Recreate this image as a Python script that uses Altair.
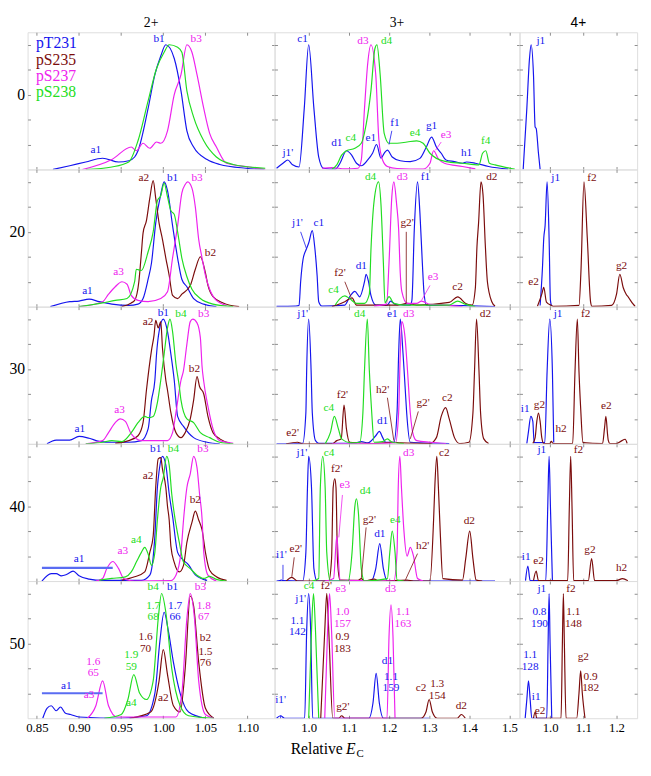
import altair as alt
import pandas as pd

SERIF = "Liberation Serif"
GRAY = "#8c8c8c"
SERIES = ["pT231", "pS235", "pS237", "pS238"]
COLORS = ["#1515ee", "#7b0c0c", "#ee22ee", "#22dd22"]
BAR_COLOR = "#5a6cf2"
ROWS = ["0", "20", "30", "40", "50"]
CHARGES = ["2+", "3+", "4+"]

X_DOMAIN = {"2+": [0.839, 1.132], "3+": [0.915, 1.525], "4+": [0.908, 1.262]}
X_TICKS = {"2+": [0.85, 0.90, 0.95, 1.00, 1.05, 1.10],
           "3+": [1.0, 1.1, 1.2, 1.3, 1.4, 1.5],
           "4+": [1.0, 1.1, 1.2]}
Y_DOMAIN = [0, 1.1]
Y_TICKS = [0.2, 0.4, 0.6, 0.8, 1.0]
PANEL_W = {"2+": 252, "3+": 250, "4+": 120}
PANEL_H = 140

# ---------------- traces: 2+ ----------------
r0_2_T231_x = [0.869, 0.889, 0.908, 0.928, 0.947, 0.959, 0.966, 0.970, 0.982, 0.990, 0.997, 1.003, 1.013, 1.021, 1.028, 1.036, 1.052, 1.067, 1.098, 1.12]
r0_2_T231_y = [0.0, 0.03, 0.06, 0.09, 0.06, 0.07, 0.1, 0.15, 0.49, 0.76, 0.91, 1.0, 0.89, 0.63, 0.31, 0.18, 0.08, 0.04, 0.01, 0.0]
r0_2_S237_x = [0.904, 0.939, 0.962, 0.968, 0.976, 0.984, 0.992, 0.997, 1.005, 1.013, 1.021, 1.028, 1.034, 1.040, 1.048, 1.055, 1.063, 1.075, 1.102, 1.121]
r0_2_S237_y = [0.0, 0.08, 0.18, 0.15, 0.21, 0.17, 0.22, 0.21, 0.31, 0.6, 0.76, 1.0, 0.94, 0.76, 0.49, 0.29, 0.18, 0.05, 0.02, 0.0]
r0_2_S238_x = [0.908, 0.939, 0.959, 0.970, 0.982, 0.992, 1.001, 1.007, 1.017, 1.022, 1.028, 1.036, 1.048, 1.063, 1.083, 1.121]
r0_2_S238_y = [0.0, 0.02, 0.06, 0.23, 0.55, 0.81, 0.94, 1.0, 0.98, 0.94, 0.63, 0.42, 0.23, 0.1, 0.04, 0.01]

r20_2_T231_x = [0.866, 0.889, 0.900, 0.912, 0.924, 0.939, 0.959, 0.970, 0.976, 0.982, 0.986, 0.991, 0.997, 1.001, 1.005, 1.011, 1.017, 1.022, 1.028, 1.036, 1.048, 1.063]
r20_2_T231_y = [0.0, 0.04, 0.045, 0.06, 0.04, 0.02, 0.01, 0.02, 0.065, 0.22, 0.35, 0.67, 0.9, 1.0, 0.93, 0.65, 0.39, 0.22, 0.16, 0.065, 0.02, 0.0]
r20_2_S235_x = [0.951, 0.962, 0.966, 0.971, 0.974, 0.976, 0.980, 0.984, 0.988, 0.991, 0.995, 0.999, 1.003, 1.007, 1.011, 1.017, 1.022, 1.032, 1.038, 1.044, 1.050, 1.053, 1.059, 1.071, 1.090]
r20_2_S235_y = [0.0, 0.03, 0.05, 0.2, 0.43, 0.59, 0.69, 0.87, 1.01, 0.87, 0.67, 0.54, 0.39, 0.25, 0.09, 0.065, 0.1, 0.17, 0.3, 0.4, 0.27, 0.17, 0.08, 0.03, 0.0]
r20_2_S237_x = [0.900, 0.928, 0.935, 0.943, 0.951, 0.957, 0.962, 0.970, 0.982, 0.997, 1.005, 1.011, 1.017, 1.022, 1.026, 1.029, 1.034, 1.038, 1.042, 1.046, 1.050, 1.055, 1.063, 1.075]
r20_2_S237_y = [0.0, 0.04, 0.1, 0.16, 0.2, 0.18, 0.09, 0.05, 0.04, 0.065, 0.12, 0.39, 0.65, 0.91, 0.98, 1.0, 0.95, 0.8, 0.54, 0.39, 0.25, 0.14, 0.05, 0.01]
r20_2_S238_x = [0.900, 0.928, 0.943, 0.957, 0.966, 0.968, 0.974, 0.982, 0.988, 0.993, 0.997, 1.001, 1.005, 1.009, 1.013, 1.017, 1.022, 1.028, 1.034, 1.044, 1.059, 1.083]
r20_2_S238_y = [0.0, 0.03, 0.05, 0.065, 0.2, 0.3, 0.29, 0.44, 0.6, 0.85, 0.89, 0.99, 0.88, 0.77, 0.74, 0.6, 0.39, 0.24, 0.14, 0.065, 0.02, 0.0]

r30_2_T231_x = [0.862, 0.873, 0.889, 0.900, 0.912, 0.924, 0.939, 0.959, 0.974, 0.982, 0.986, 0.990, 0.992, 0.995, 1.000, 1.005, 1.009, 1.013, 1.017, 1.024, 1.036, 1.052, 1.067]
r30_2_T231_y = [0.0, 0.03, 0.03, 0.06, 0.045, 0.02, 0.013, 0.013, 0.026, 0.12, 0.35, 0.51, 0.72, 0.9, 1.0, 0.9, 0.72, 0.51, 0.22, 0.14, 0.05, 0.013, 0.0]
r30_2_S235_x = [0.943, 0.959, 0.970, 0.976, 0.980, 0.986, 0.989, 0.991, 0.994, 0.997, 0.999, 1.003, 1.005, 1.009, 1.015, 1.021, 1.026, 1.032, 1.036, 1.040, 1.043, 1.048, 1.053, 1.059, 1.067, 1.079]
r30_2_S235_y = [0.005, 0.026, 0.065, 0.17, 0.43, 0.75, 0.87, 0.99, 0.93, 0.98, 0.77, 0.51, 0.43, 0.25, 0.09, 0.05, 0.09, 0.2, 0.35, 0.54, 0.46, 0.4, 0.22, 0.09, 0.04, 0.005]
r30_2_S237_x = [0.908, 0.928, 0.935, 0.943, 0.949, 0.955, 0.962, 0.974, 1.005, 1.011, 1.015, 1.021, 1.024, 1.028, 1.032, 1.035, 1.040, 1.044, 1.046, 1.048, 1.053, 1.059, 1.067, 1.083]
r30_2_S237_y = [0.0, 0.026, 0.09, 0.17, 0.2, 0.18, 0.08, 0.026, 0.026, 0.09, 0.25, 0.51, 0.59, 0.8, 0.98, 1.0, 0.97, 0.85, 0.62, 0.5, 0.3, 0.12, 0.026, 0.005]
r30_2_S238_x = [0.908, 0.928, 0.939, 0.951, 0.962, 0.970, 0.978, 0.982, 0.988, 0.993, 0.997, 1.001, 1.005, 1.008, 1.011, 1.015, 1.019, 1.021, 1.028, 1.036, 1.044, 1.055, 1.067, 1.083]
r30_2_S238_y = [0.0, 0.013, 0.026, 0.018, 0.09, 0.17, 0.22, 0.21, 0.22, 0.33, 0.51, 0.72, 0.93, 1.0, 0.9, 0.64, 0.46, 0.35, 0.2, 0.17, 0.09, 0.05, 0.013, 0.0]

r40_2_T231_x = [0.856, 0.867, 0.873, 0.879, 0.885, 0.893, 0.900, 0.912, 0.928, 0.974, 0.984, 0.990, 0.993, 0.995, 0.999, 1.003, 1.007, 1.011, 1.017, 1.022, 1.030, 1.038, 1.052]
r40_2_T231_y = [0.0, 0.06, 0.06, 0.042, 0.052, 0.079, 0.042, 0.016, 0.005, 0.005, 0.047, 0.36, 0.75, 0.88, 1.0, 0.93, 0.7, 0.52, 0.23, 0.18, 0.13, 0.05, 0.005]
r40_2_S235_x = [0.951, 0.966, 0.978, 0.984, 0.988, 0.991, 0.994, 0.997, 0.999, 1.003, 1.005, 1.007, 1.009, 1.013, 1.019, 1.024, 1.028, 1.034, 1.038, 1.042, 1.046, 1.050, 1.055, 1.063, 1.075]
r40_2_S235_y = [0.008, 0.034, 0.073, 0.23, 0.36, 0.75, 0.98, 0.99, 0.9, 0.75, 0.6, 0.49, 0.28, 0.15, 0.073, 0.126, 0.31, 0.47, 0.56, 0.49, 0.41, 0.23, 0.086, 0.034, 0.005]
r40_2_S237_x = [0.920, 0.928, 0.933, 0.940, 0.947, 0.953, 0.966, 1.009, 1.015, 1.021, 1.024, 1.028, 1.032, 1.036, 1.040, 1.043, 1.046, 1.048, 1.053, 1.063]
r40_2_S237_y = [0.0, 0.021, 0.1, 0.157, 0.1, 0.021, 0.0, 0.003, 0.047, 0.23, 0.49, 0.75, 0.86, 1.0, 0.91, 0.7, 0.5, 0.23, 0.047, 0.0]
r40_2_S238_x = [0.924, 0.939, 0.955, 0.962, 0.968, 0.974, 0.978, 0.982, 0.986, 0.990, 0.993, 0.997, 1.000, 1.004, 1.007, 1.010, 1.013, 1.019, 1.024, 1.032, 1.040, 1.048, 1.055, 1.063, 1.075]
r40_2_S238_y = [0.008, 0.021, 0.034, 0.073, 0.152, 0.23, 0.27, 0.217, 0.126, 0.23, 0.49, 0.75, 0.83, 1.0, 0.93, 0.7, 0.54, 0.31, 0.152, 0.1, 0.047, 0.021, 0.037, 0.013, 0.0]

r50_2_T231_x = [0.857, 0.862, 0.867, 0.873, 0.878, 0.884, 0.890, 0.900, 0.950, 0.980, 0.990, 0.996, 1.001, 1.006, 1.012, 1.020, 1.030, 1.050]
r50_2_T231_y = [0.0, 0.08, 0.1, 0.06, 0.09, 0.04, 0.03, 0.01, 0.0, 0.02, 0.2, 0.62, 0.85, 0.7, 0.45, 0.2, 0.05, 0.0]
r50_2_S235_x = [0.960, 0.985, 0.995, 1.000, 1.005, 1.012, 1.020, 1.026, 1.032, 1.036, 1.042, 1.050, 1.060]
r50_2_S235_y = [0.0, 0.05, 0.3, 0.55, 0.35, 0.1, 0.05, 0.4, 0.98, 0.9, 0.45, 0.08, 0.0]
r50_2_S237_x = [0.910, 0.920, 0.928, 0.935, 0.945, 1.015, 1.022, 1.028, 1.032, 1.037, 1.042, 1.050, 1.060]
r50_2_S237_y = [0.0, 0.1, 0.3, 0.1, 0.01, 0.01, 0.2, 0.8, 1.0, 0.8, 0.3, 0.03, 0.0]
r50_2_S238_x = [0.930, 0.950, 0.958, 0.965, 0.972, 0.980, 0.988, 0.994, 0.998, 1.003, 1.010, 1.020, 1.030, 1.060]
r50_2_S238_y = [0.0, 0.03, 0.15, 0.35, 0.2, 0.15, 0.3, 0.8, 1.0, 0.85, 0.4, 0.1, 0.02, 0.0]

# ---------------- traces: 3+ ----------------
r0_3_T231_x = [0.920, 0.936, 0.948, 0.960, 0.976, 0.989, 1.000, 1.013, 1.025, 1.037, 1.066, 1.078, 1.094, 1.107, 1.119, 1.131, 1.147, 1.159, 1.169, 1.180, 1.188, 1.196, 1.208, 1.228, 1.253, 1.277, 1.293, 1.306, 1.318, 1.330, 1.342, 1.363, 1.383, 1.393, 1.415, 1.448, 1.497]
r0_3_T231_y = [0.01, 0.05, 0.076, 0.037, 0.02, 0.49, 1.0, 0.49, 0.1, 0.01, 0.003, 0.05, 0.15, 0.115, 0.05, 0.03, 0.076, 0.13, 0.2, 0.09, 0.13, 0.155, 0.1, 0.07, 0.063, 0.089, 0.18, 0.26, 0.18, 0.13, 0.076, 0.063, 0.05, 0.06, 0.05, 0.024, 0.003]
r0_3_S237_x = [1.033, 1.058, 1.090, 1.123, 1.131, 1.139, 1.147, 1.155, 1.167, 1.175, 1.184, 1.196, 1.220, 1.285, 1.302, 1.311, 1.322, 1.338, 1.383, 1.415]
r0_3_S237_y = [0.01, 0.015, 0.005, 0.01, 0.076, 0.49, 0.85, 1.0, 0.76, 0.23, 0.076, 0.024, 0.008, 0.003, 0.05, 0.15, 0.09, 0.05, 0.024, 0.005]
r0_3_S238_x = [1.058, 1.070, 1.082, 1.094, 1.115, 1.131, 1.143, 1.155, 1.165, 1.170, 1.178, 1.188, 1.200, 1.220, 1.245, 1.269, 1.285, 1.302, 1.318, 1.342, 1.383, 1.424, 1.433, 1.441, 1.450, 1.464, 1.513]
r0_3_S238_y = [0.003, 0.037, 0.115, 0.15, 0.17, 0.21, 0.36, 0.63, 0.97, 1.0, 0.76, 0.29, 0.21, 0.21, 0.22, 0.23, 0.21, 0.13, 0.089, 0.063, 0.05, 0.037, 0.13, 0.15, 0.05, 0.037, 0.003]

r20_3_T231_x = [0.920, 0.968, 0.976, 0.980, 0.986, 0.994, 1.000, 1.009, 1.015, 1.021, 1.025, 1.033, 1.090, 1.102, 1.115, 1.127, 1.139, 1.143, 1.149, 1.155, 1.167, 1.196, 1.204, 1.216, 1.253, 1.257, 1.263, 1.271, 1.277, 1.283, 1.287, 1.293, 1.383, 1.464]
r20_3_T231_y = [0.003, 0.005, 0.01, 0.2, 0.38, 0.46, 0.51, 0.61, 0.48, 0.25, 0.04, 0.005, 0.013, 0.079, 0.123, 0.079, 0.2, 0.26, 0.2, 0.09, 0.013, 0.013, 0.045, 0.018, 0.013, 0.05, 0.62, 1.0, 0.75, 0.35, 0.12, 0.013, 0.008, 0.0]
r20_3_S235_x = [1.058, 1.070, 1.090, 1.108, 1.119, 1.222, 1.245, 1.269, 1.350, 1.371, 1.391, 1.407, 1.415, 1.419, 1.423, 1.429, 1.434, 1.440, 1.445, 1.456, 1.464]
r20_3_S235_y = [0.0, 0.013, 0.04, 0.07, 0.013, 0.013, 0.026, 0.013, 0.034, 0.079, 0.026, 0.013, 0.15, 0.48, 0.67, 1.0, 0.9, 0.48, 0.2, 0.04, 0.005]
r20_3_S237_x = [1.163, 1.194, 1.200, 1.207, 1.212, 1.219, 1.224, 1.228, 1.232, 1.245, 1.269, 1.281, 1.302, 1.334, 1.383]
r20_3_S237_y = [0.005, 0.02, 0.35, 0.88, 1.0, 0.82, 0.62, 0.27, 0.12, 0.026, 0.026, 0.045, 0.018, 0.013, 0.0]
r20_3_S238_x = [1.066, 1.078, 1.090, 1.102, 1.119, 1.139, 1.151, 1.155, 1.163, 1.174, 1.180, 1.186, 1.190, 1.200, 1.212, 1.237, 1.350, 1.371, 1.391, 1.415]
r20_3_S238_y = [0.013, 0.065, 0.086, 0.065, 0.026, 0.026, 0.1, 0.45, 0.85, 1.0, 0.82, 0.35, 0.03, 0.08, 0.026, 0.013, 0.013, 0.045, 0.018, 0.0]

r30_3_T231_x = [0.920, 0.985, 0.993, 0.995, 1.000, 1.006, 1.009, 1.017, 1.025, 1.115, 1.131, 1.147, 1.167, 1.176, 1.184, 1.192, 1.212, 1.220, 1.224, 1.228, 1.235, 1.240, 1.244, 1.253, 1.350]
r30_3_T231_y = [0.0, 0.005, 0.25, 0.59, 1.0, 0.59, 0.25, 0.026, 0.005, 0.005, 0.018, 0.008, 0.065, 0.1, 0.052, 0.013, 0.013, 0.25, 0.72, 1.0, 0.72, 0.46, 0.25, 0.013, 0.003]
r30_3_S235_x = [0.944, 0.972, 0.985, 1.058, 1.070, 1.081, 1.088, 1.094, 1.102, 1.163, 1.212, 1.228, 1.302, 1.318, 1.330, 1.341, 1.350, 1.363, 1.376, 1.399, 1.409, 1.413, 1.418, 1.424, 1.428, 1.436, 1.448]
r30_3_S235_y = [0.0, 0.013, 0.0, 0.0, 0.026, 0.04, 0.31, 0.12, 0.013, 0.003, 0.013, 0.008, 0.003, 0.05, 0.22, 0.29, 0.2, 0.05, 0.003, 0.013, 0.25, 0.59, 1.0, 0.59, 0.25, 0.04, 0.003]
r30_3_S237_x = [1.058, 1.163, 1.216, 1.224, 1.228, 1.232, 1.240, 1.246, 1.253, 1.261, 1.269, 1.302, 1.342]
r30_3_S237_y = [0.0, 0.003, 0.008, 0.25, 0.72, 0.98, 0.85, 0.59, 0.25, 0.065, 0.026, 0.013, 0.003]
r30_3_S238_x = [1.041, 1.054, 1.064, 1.074, 1.082, 1.106, 1.127, 1.135, 1.139, 1.146, 1.151, 1.157, 1.163, 1.184, 1.196, 1.208, 1.237]
r30_3_S238_y = [0.0, 0.09, 0.22, 0.12, 0.04, 0.008, 0.013, 0.25, 0.59, 1.0, 0.59, 0.25, 0.013, 0.018, 0.04, 0.013, 0.003]

r40_3_T231_x = [0.920, 0.928, 0.932, 0.936, 0.985, 0.993, 0.997, 1.000, 1.007, 1.013, 1.021, 1.155, 1.167, 1.177, 1.186, 1.196, 1.464]
r40_3_T231_y = [0.0, 0.003, 0.008, 0.003, 0.0, 0.23, 0.75, 1.0, 0.75, 0.1, 0.0, 0.0, 0.1, 0.3, 0.1, 0.0, 0.0]
r40_3_S235_x = [0.944, 0.958, 0.972, 1.050, 1.057, 1.061, 1.065, 1.068, 1.072, 1.078, 1.123, 1.131, 1.139, 1.163, 1.175, 1.245, 1.261, 1.302, 1.311, 1.314, 1.319, 1.323, 1.328, 1.334, 1.383, 1.391, 1.401, 1.409, 1.417, 1.432]
r40_3_S235_y = [0.0, 0.03, 0.0, 0.0, 0.18, 0.75, 0.82, 0.75, 0.15, 0.008, 0.005, 0.02, 0.0, 0.015, 0.0, 0.008, 0.0, 0.0, 0.49, 0.75, 1.0, 0.75, 0.36, 0.02, 0.008, 0.18, 0.4, 0.18, 0.008, 0.0]
r40_3_S237_x = [1.041, 1.062, 1.070, 1.078, 1.212, 1.220, 1.223, 1.227, 1.231, 1.237, 1.245, 1.253, 1.261, 1.271, 1.285]
r40_3_S237_y = [0.0, 0.02, 0.36, 0.008, 0.0, 0.23, 0.75, 1.0, 0.75, 0.41, 0.2, 0.27, 0.2, 0.02, 0.0]
r40_3_S238_x = [1.009, 1.025, 1.029, 1.035, 1.041, 1.045, 1.054, 1.098, 1.108, 1.115, 1.119, 1.124, 1.131, 1.139, 1.196, 1.202, 1.208, 1.215, 1.220, 1.237]
r40_3_S238_y = [0.0, 0.02, 0.75, 1.0, 0.75, 0.23, 0.0, 0.0, 0.23, 0.6, 0.66, 0.54, 0.1, 0.0, 0.02, 0.23, 0.4, 0.23, 0.008, 0.0]

r50_3_T231_x = [0.920, 0.930, 0.940, 0.990, 0.995, 1.000, 1.005, 1.010, 1.150, 1.160, 1.168, 1.176, 1.186, 1.300]
r50_3_T231_y = [0.0, 0.02, 0.0, 0.0, 0.7, 1.0, 0.7, 0.0, 0.0, 0.12, 0.36, 0.12, 0.0, 0.0]
r50_3_S235_x = [1.030, 1.040, 1.045, 1.050, 1.060, 1.075, 1.082, 1.090, 1.280, 1.292, 1.300, 1.308, 1.320, 1.370, 1.380, 1.390]
r50_3_S235_y = [0.0, 0.7, 1.0, 0.7, 0.0, 0.0, 0.02, 0.0, 0.0, 0.05, 0.15, 0.05, 0.0, 0.0, 0.03, 0.0]
r50_3_S237_x = [1.040, 1.047, 1.052, 1.057, 1.065, 1.195, 1.200, 1.205, 1.210, 1.215]
r50_3_S237_y = [0.0, 0.7, 1.0, 0.7, 0.0, 0.0, 0.65, 0.91, 0.65, 0.0]
r50_3_S238_x = [1.000, 1.007, 1.012, 1.017, 1.025]
r50_3_S238_y = [0.0, 0.7, 1.0, 0.7, 0.0]

# ---------------- traces: 4+ ----------------
r0_4_T231_x = [0.919, 0.930, 0.938, 0.943, 0.950, 0.955, 0.958, 0.965, 0.970]
r0_4_T231_y = [0.0, 0.49, 0.89, 1.0, 0.76, 0.34, 0.33, 0.13, 0.0]

r20_4_T231_x = [0.970, 0.977, 0.981, 0.985, 0.991, 0.997, 1.001, 1.004]
r20_4_T231_y = [0.01, 0.31, 0.55, 0.65, 1.0, 0.55, 0.05, 0.01]
r20_4_S235_x = [0.962, 0.975, 0.981, 0.989, 1.004, 1.009, 1.087, 1.093, 1.102, 1.112, 1.122, 1.126, 1.185, 1.200, 1.210, 1.220, 1.229, 1.236, 1.249, 1.256]
r20_4_S235_y = [0.003, 0.1, 0.154, 0.037, 0.01, 0.003, 0.01, 0.29, 1.0, 0.55, 0.037, 0.003, 0.01, 0.1, 0.26, 0.154, 0.1, 0.075, 0.024, 0.003]

r30_4_T231_x = [0.930, 0.935, 0.942, 0.948, 0.952, 0.984, 0.991, 0.999, 1.007, 1.011]
r30_4_T231_y = [0.003, 0.1, 0.22, 0.18, 0.01, 0.01, 0.58, 1.0, 0.58, 0.01]
r30_4_S235_x = [0.948, 0.955, 0.960, 0.965, 0.970, 0.975, 0.981, 0.999, 1.004, 1.009, 1.068, 1.075, 1.082, 1.087, 1.092, 1.099, 1.158, 1.164, 1.168, 1.173, 1.175, 1.180, 1.200, 1.215, 1.226, 1.232]
r30_4_S235_y = [0.003, 0.05, 0.18, 0.246, 0.18, 0.05, 0.003, 0.003, 0.02, 0.003, 0.003, 0.58, 1.0, 0.58, 0.29, 0.01, 0.003, 0.13, 0.22, 0.076, 0.03, 0.003, 0.003, 0.024, 0.037, 0.003]

r40_4_T231_x = [0.926, 0.933, 0.940, 0.987, 0.993, 0.997, 1.001, 1.007]
r40_4_T231_y = [0.003, 0.12, 0.003, 0.003, 0.6, 1.0, 0.6, 0.003]
r40_4_S235_x = [0.950, 0.958, 0.965, 1.053, 1.058, 1.062, 1.066, 1.071, 1.115, 1.125, 1.134, 1.199, 1.218, 1.234]
r40_4_S235_y = [0.003, 0.08, 0.003, 0.003, 0.6, 1.0, 0.6, 0.003, 0.003, 0.18, 0.003, 0.003, 0.02, 0.003]

r50_4_T231_x = [0.925, 0.930, 0.935, 0.940, 0.945, 0.990, 0.994, 0.997, 1.000, 1.005]
r50_4_T231_y = [0.0, 0.15, 0.3, 0.15, 0.0, 0.0, 0.6, 1.0, 0.6, 0.0]
r50_4_S235_x = [0.950, 0.955, 0.960, 1.033, 1.037, 1.040, 1.043, 1.048, 1.080, 1.087, 1.092, 1.097, 1.105]
r50_4_S235_y = [0.0, 0.05, 0.0, 0.0, 0.6, 1.0, 0.6, 0.0, 0.0, 0.2, 0.38, 0.2, 0.0]

# ---------------- peak labels (text, x, y bottom, series) ----------------
L_0_2 = [("a1", 0.92, 0.115, "pT231"), ("b1", 0.995, 1.01, "pT231"), ("b3", 1.039, 1.01, "pS237")]
L_20_2 = [("a2", 0.977, 0.995, "pS235"), ("b1", 1.011, 0.995, "pT231"), ("b3", 1.04, 0.995, "pS237"),
          ("b2", 1.056, 0.39, "pS235"), ("a3", 0.947, 0.235, "pS237"), ("a1", 0.91, 0.086, "pT231")]
L_30_2 = [("a2", 0.982, 0.94, "pS235"), ("b1", 1.0, 1.01, "pT231"), ("b4", 1.021, 1.0, "pS238"),
          ("b3", 1.048, 1.0, "pS237"), ("b2", 1.037, 0.56, "pS235"), ("a3", 0.948, 0.235, "pS237"),
          ("a1", 0.901, 0.08, "pT231")]
L_40_2 = [("a1", 0.9, 0.14, "pT231"), ("a3", 0.952, 0.2, "pS237"), ("a4", 0.968, 0.29, "pS238"),
          ("b2", 1.038, 0.61, "pS235"), ("b1", 0.991, 1.02, "pT231"), ("b4", 1.012, 1.02, "pS238"),
          ("b3", 1.047, 1.02, "pS237"), ("a2", 0.982, 0.806, "pS235")]
L_50_2 = [("b4", 0.988, 1.015, "pS238"), ("b1", 1.011, 1.015, "pT231"), ("b3", 1.044, 1.015, "pS237"),
          ("b2", 1.05, 0.6, "pS235"), ("a3", 0.912, 0.15, "pS237"), ("a1", 0.885, 0.22, "pT231"),
          ("a4", 0.962, 0.08, "pS238"), ("a2", 1.0, 0.12, "pS235")]
L_0_3 = [("j1'", 0.948, 0.09, "pT231"), ("c1", 0.985, 1.005, "pT231"), ("d1", 1.07, 0.17, "pT231"),
         ("c4", 1.105, 0.21, "pS238"), ("d3", 1.135, 0.99, "pS237"), ("d4", 1.194, 0.99, "pS238"),
         ("e1", 1.155, 0.21, "pT231"), ("f1", 1.215, 0.33, "pT231"), ("e4", 1.265, 0.25, "pS238"),
         ("g1", 1.306, 0.31, "pT231"), ("e3", 1.342, 0.24, "pS237"), ("h1", 1.393, 0.09, "pT231"),
         ("f4", 1.441, 0.19, "pS238")]
L_20_3 = [("j1'", 0.972, 0.63, "pT231"), ("c1", 1.025, 0.63, "pT231"), ("d4", 1.154, 1.0, "pS238"),
          ("d3", 1.233, 1.0, "pS237"), ("f1", 1.291, 1.0, "pT231"), ("d2", 1.456, 1.0, "pS235"),
          ("g2'", 1.245, 0.63, "pS235"), ("d1", 1.131, 0.29, "pT231"), ("f2'", 1.078, 0.23, "pS235"),
          ("c4", 1.062, 0.09, "pS238"), ("e3", 1.31, 0.2, "pS237"), ("c2", 1.371, 0.12, "pS235")]
L_30_3 = [("j1'", 0.985, 1.0, "pT231"), ("d4", 1.127, 1.0, "pS238"), ("e1", 1.208, 1.0, "pT231"),
          ("d3", 1.249, 1.0, "pS237"), ("d2", 1.44, 1.0, "pS235"), ("e2'", 0.96, 0.05, "pS235"),
          ("c4", 1.05, 0.25, "pS238"), ("f2'", 1.084, 0.35, "pS235"), ("d1", 1.184, 0.14, "pT231"),
          ("h2'", 1.184, 0.39, "pS235"), ("g2'", 1.285, 0.29, "pS235"), ("c2", 1.345, 0.33, "pS235")]
L_40_3 = [("j1'", 0.983, 0.99, "pT231"), ("c4", 1.051, 0.99, "pS238"), ("f2'", 1.07, 0.86, "pS235"),
          ("e3", 1.09, 0.73, "pS237"), ("d4", 1.141, 0.68, "pS238"), ("g2'", 1.151, 0.45, "pS235"),
          ("d1", 1.177, 0.34, "pT231"), ("e4", 1.216, 0.45, "pS238"), ("d3", 1.249, 0.99, "pS237"),
          ("c2", 1.338, 0.99, "pS235"), ("h2'", 1.284, 0.24, "pS235"), ("d2", 1.4, 0.44, "pS235"),
          ("i1'", 0.932, 0.17, "pT231"), ("e2'", 0.968, 0.22, "pS235")]
L_50_3 = [("j1'", 0.98, 0.92, "pT231"), ("c4", 1.001, 1.02, "pS238"), ("f2'", 1.044, 1.02, "pS235"),
          ("e3", 1.08, 1.0, "pS237"), ("d3", 1.204, 1.0, "pS237"), ("d1", 1.196, 0.42, "pT231"),
          ("c2", 1.28, 0.2, "pS235"), ("d2", 1.38, 0.06, "pS235"), ("g2'", 1.085, 0.05, "pS235"),
          ("i1'", 0.93, 0.11, "pT231")]
L_0_4 = [("j1", 0.972, 0.99, "pT231")]
L_20_4 = [("j1", 1.017, 0.99, "pT231"), ("f2", 1.126, 0.99, "pS235"), ("e2", 0.95, 0.155, "pS235"),
          ("g2", 1.215, 0.285, "pS235")]
L_30_4 = [("j1", 1.024, 1.0, "pT231"), ("f2", 1.107, 1.0, "pS235"), ("i1", 0.925, 0.24, "pT231"),
          ("g2", 0.968, 0.27, "pS235"), ("h2", 1.033, 0.076, "pS235"), ("e2", 1.169, 0.26, "pS235")]
L_40_4 = [("j1", 0.975, 1.01, "pT231"), ("f2", 1.085, 1.01, "pS235"), ("i1", 0.928, 0.15, "pT231"),
          ("e2", 0.965, 0.12, "pS235"), ("g2", 1.12, 0.21, "pS235"), ("h2", 1.215, 0.063, "pS235")]
L_50_4 = [("j1", 0.975, 1.0, "pT231"), ("f2", 1.063, 1.0, "pS235"), ("i1", 0.958, 0.13, "pT231"),
          ("e2", 0.97, 0.02, "pS235"), ("g2", 1.1, 0.45, "pS235")]

# numeric annotations (text, x, y top, series)
N_50_2 = [("1.7\n68", 0.988, 0.95, "pS238"), ("1.7\n66", 1.014, 0.95, "pT231"), ("1.8\n67", 1.048, 0.95, "pS237"),
          ("1.5\n76", 1.05, 0.58, "pS235"), ("1.6\n70", 0.979, 0.7, "pS235"), ("1.6\n65", 0.917, 0.5, "pS237"),
          ("1.9\n59", 0.962, 0.55, "pS238")]
N_50_3 = [("1.1\n142", 0.972, 0.83, "pT231"), ("1.0\n157", 1.084, 0.9, "pS237"), ("0.9\n183", 1.084, 0.7, "pS235"),
          ("1.1\n163", 1.235, 0.9, "pS237"), ("1.1\n159", 1.205, 0.38, "pT231"), ("1.3\n154", 1.32, 0.32, "pS235")]
N_50_4 = [("0.8\n190", 0.968, 0.9, "pT231"), ("1.1\n148", 1.07, 0.9, "pS235"), ("1.1\n128", 0.94, 0.55, "pT231"),
          ("0.9\n182", 1.122, 0.38, "pS235")]

# leader lines (x1, y1, x2, y2, series)
R_0_3 = [(1.207, 0.31, 1.2, 0.2, "pT231"), (1.33, 0.22, 1.316, 0.155, "pS237")]
R_20_3 = [(0.98, 0.6, 0.994, 0.47, "pT231"), (1.243, 0.6, 1.243, 0.03, "pS235"),
          (1.302, 0.17, 1.281, 0.05, "pS237"), (1.09, 0.2, 1.105, 0.08, "pS235")]
R_30_3 = [(1.196, 0.37, 1.212, 0.026, "pS235"), (1.273, 0.26, 1.253, 0.04, "pS235")]
R_40_3 = [(1.084, 0.69, 1.075, 0.35, "pS237"), (1.143, 0.43, 1.131, 0.02, "pS235"),
          (1.271, 0.22, 1.241, 0.01, "pS235"), (0.936, 0.13, 0.936, 0.01, "pT231"),
          (0.964, 0.19, 0.958, 0.035, "pS235")]
R_50_3 = [(0.93, 0.02, 0.93, 0.0, "pT231")]

# horizontal range bars (x1, x2, y, series)
B_40_2 = [(0.856, 0.94, 0.105, "pT231")]
B_50_2 = [(0.856, 0.928, 0.2, "pT231")]

LEGEND_Y = [0.97, 0.84, 0.71, 0.58]
LEGEND_X = 0.849

# ---------------- assemble tables ----------------
TRACES = [
    ("0", "2+", "pT231", r0_2_T231_x, r0_2_T231_y), ("0", "2+", "pS237", r0_2_S237_x, r0_2_S237_y),
    ("0", "2+", "pS238", r0_2_S238_x, r0_2_S238_y),
    ("20", "2+", "pT231", r20_2_T231_x, r20_2_T231_y), ("20", "2+", "pS235", r20_2_S235_x, r20_2_S235_y),
    ("20", "2+", "pS237", r20_2_S237_x, r20_2_S237_y), ("20", "2+", "pS238", r20_2_S238_x, r20_2_S238_y),
    ("30", "2+", "pT231", r30_2_T231_x, r30_2_T231_y), ("30", "2+", "pS235", r30_2_S235_x, r30_2_S235_y),
    ("30", "2+", "pS237", r30_2_S237_x, r30_2_S237_y), ("30", "2+", "pS238", r30_2_S238_x, r30_2_S238_y),
    ("40", "2+", "pT231", r40_2_T231_x, r40_2_T231_y), ("40", "2+", "pS235", r40_2_S235_x, r40_2_S235_y),
    ("40", "2+", "pS237", r40_2_S237_x, r40_2_S237_y), ("40", "2+", "pS238", r40_2_S238_x, r40_2_S238_y),
    ("50", "2+", "pT231", r50_2_T231_x, r50_2_T231_y), ("50", "2+", "pS235", r50_2_S235_x, r50_2_S235_y),
    ("50", "2+", "pS237", r50_2_S237_x, r50_2_S237_y), ("50", "2+", "pS238", r50_2_S238_x, r50_2_S238_y),
    ("0", "3+", "pT231", r0_3_T231_x, r0_3_T231_y), ("0", "3+", "pS237", r0_3_S237_x, r0_3_S237_y),
    ("0", "3+", "pS238", r0_3_S238_x, r0_3_S238_y),
    ("20", "3+", "pT231", r20_3_T231_x, r20_3_T231_y), ("20", "3+", "pS235", r20_3_S235_x, r20_3_S235_y),
    ("20", "3+", "pS237", r20_3_S237_x, r20_3_S237_y), ("20", "3+", "pS238", r20_3_S238_x, r20_3_S238_y),
    ("30", "3+", "pT231", r30_3_T231_x, r30_3_T231_y), ("30", "3+", "pS235", r30_3_S235_x, r30_3_S235_y),
    ("30", "3+", "pS237", r30_3_S237_x, r30_3_S237_y), ("30", "3+", "pS238", r30_3_S238_x, r30_3_S238_y),
    ("40", "3+", "pT231", r40_3_T231_x, r40_3_T231_y), ("40", "3+", "pS235", r40_3_S235_x, r40_3_S235_y),
    ("40", "3+", "pS237", r40_3_S237_x, r40_3_S237_y), ("40", "3+", "pS238", r40_3_S238_x, r40_3_S238_y),
    ("50", "3+", "pT231", r50_3_T231_x, r50_3_T231_y), ("50", "3+", "pS235", r50_3_S235_x, r50_3_S235_y),
    ("50", "3+", "pS237", r50_3_S237_x, r50_3_S237_y), ("50", "3+", "pS238", r50_3_S238_x, r50_3_S238_y),
    ("0", "4+", "pT231", r0_4_T231_x, r0_4_T231_y),
    ("20", "4+", "pT231", r20_4_T231_x, r20_4_T231_y), ("20", "4+", "pS235", r20_4_S235_x, r20_4_S235_y),
    ("30", "4+", "pT231", r30_4_T231_x, r30_4_T231_y), ("30", "4+", "pS235", r30_4_S235_x, r30_4_S235_y),
    ("40", "4+", "pT231", r40_4_T231_x, r40_4_T231_y), ("40", "4+", "pS235", r40_4_S235_x, r40_4_S235_y),
    ("50", "4+", "pT231", r50_4_T231_x, r50_4_T231_y), ("50", "4+", "pS235", r50_4_S235_x, r50_4_S235_y),
]
LABELS = {("0", "2+"): L_0_2, ("20", "2+"): L_20_2, ("30", "2+"): L_30_2, ("40", "2+"): L_40_2, ("50", "2+"): L_50_2,
          ("0", "3+"): L_0_3, ("20", "3+"): L_20_3, ("30", "3+"): L_30_3, ("40", "3+"): L_40_3, ("50", "3+"): L_50_3,
          ("0", "4+"): L_0_4, ("20", "4+"): L_20_4, ("30", "4+"): L_30_4, ("40", "4+"): L_40_4, ("50", "4+"): L_50_4}
NUMBERS = {("50", "2+"): N_50_2, ("50", "3+"): N_50_3, ("50", "4+"): N_50_4}
LEADERS = {("0", "3+"): R_0_3, ("20", "3+"): R_20_3, ("30", "3+"): R_30_3, ("40", "3+"): R_40_3,
           ("50", "3+"): R_50_3}
BARS = {("40", "2+"): B_40_2, ("50", "2+"): B_50_2}

line_rows = []
for r, c, s, xs_, ys_ in TRACES:
    for xv, yv in zip(xs_, ys_):
        line_rows.append({"row": r, "charge": c, "series": s, "x": xv, "y": yv})
LINES_DF = pd.DataFrame(line_rows)

CSCALE = alt.Scale(domain=SERIES, range=COLORS)


def panel(row, charge):
    ri = ROWS.index(row)
    ci = CHARGES.index(charge)
    last_row = ri == len(ROWS) - 1
    first_col = ci == 0
    xs = alt.Scale(domain=X_DOMAIN[charge], nice=False, zero=False)
    ys = alt.Scale(domain=Y_DOMAIN, nice=False, zero=False)
    fmt = ".2f" if charge == "2+" else ".1f"
    tick_common = dict(ticks=True, tickSize=3, offset=-3, domain=False, grid=False, title=None,
                       tickColor=GRAY, tickWidth=1)
    bottom = alt.Axis(orient="bottom", values=X_TICKS[charge], format=fmt, labels=last_row,
                      labelFont=SERIF, labelFontSize=13, labelColor="black", labelPadding=4,
                      labelFlush=False, labelOverlap=False, **tick_common)
    left = alt.Axis(orient="left", values=Y_TICKS, labels=first_col,
                    labelExpr=f"abs(datum.value - 0.6) < 0.01 ? '{row}' : ''",
                    labelFont=SERIF, labelFontSize=16, labelColor="black", labelPadding=3,
                    labelFlush=False, labelOverlap=False, **tick_common)
    top = alt.Axis(orient="top", values=X_TICKS[charge], labels=False, **tick_common)
    right = alt.Axis(orient="right", values=Y_TICKS, labels=False, **tick_common)

    df = LINES_DF[(LINES_DF["row"] == row) & (LINES_DF["charge"] == charge)]
    layers = []
    layers.append(
        alt.Chart(df).mark_line(strokeWidth=1.2, interpolate="monotone", clip=True).encode(
            x=alt.X("x:Q", scale=xs, axis=bottom),
            y=alt.Y("y:Q", scale=ys, axis=left),
            color=alt.Color("series:N", scale=CSCALE, legend=None),
        )
    )
    layers.append(
        alt.Chart(df).mark_point(opacity=0, size=1).encode(
            x=alt.X("x:Q", scale=xs, axis=top),
            y=alt.Y("y:Q", scale=ys, axis=right),
        )
    )
    key = (row, charge)
    if key in BARS:
        bdf = pd.DataFrame(BARS[key], columns=["x1", "x2", "y", "series"])
        layers.append(
            alt.Chart(bdf).mark_rule(strokeWidth=2.2, color=BAR_COLOR).encode(
                x=alt.X("x1:Q", scale=xs, axis=None), x2="x2:Q",
                y=alt.Y("y:Q", scale=ys, axis=None),
            )
        )
    if key in LEADERS:
        rdf = pd.DataFrame(LEADERS[key], columns=["x1", "y1", "x2", "y2", "series"])
        layers.append(
            alt.Chart(rdf).mark_rule(strokeWidth=0.8).encode(
                x=alt.X("x1:Q", scale=xs, axis=None), x2="x2:Q",
                y=alt.Y("y1:Q", scale=ys, axis=None), y2="y2:Q",
                color=alt.Color("series:N", scale=CSCALE, legend=None),
            )
        )
    if key in LABELS:
        ldf = pd.DataFrame(LABELS[key], columns=["text", "x", "y", "series"])
        layers.append(
            alt.Chart(ldf).mark_text(font=SERIF, fontSize=11.5, baseline="bottom", align="center").encode(
                x=alt.X("x:Q", scale=xs, axis=None),
                y=alt.Y("y:Q", scale=ys, axis=None),
                text="text:N",
                color=alt.Color("series:N", scale=CSCALE, legend=None),
            )
        )
    if key in NUMBERS:
        ndf = pd.DataFrame(NUMBERS[key], columns=["text", "x", "y", "series"])
        layers.append(
            alt.Chart(ndf).mark_text(font=SERIF, fontSize=11.5, baseline="top", align="center",
                                     lineBreak="\n", lineHeight=12).encode(
                x=alt.X("x:Q", scale=xs, axis=None),
                y=alt.Y("y:Q", scale=ys, axis=None),
                text="text:N",
                color=alt.Color("series:N", scale=CSCALE, legend=None),
            )
        )
    if key == ("0", "2+"):
        gdf = pd.DataFrame({"text": SERIES, "x": [LEGEND_X] * 4, "y": LEGEND_Y, "series": SERIES})
        layers.append(
            alt.Chart(gdf).mark_text(font=SERIF, fontSize=16, baseline="alphabetic", align="left").encode(
                x=alt.X("x:Q", scale=xs, axis=None),
                y=alt.Y("y:Q", scale=ys, axis=None),
                text="text:N",
                color=alt.Color("series:N", scale=CSCALE, legend=None),
            )
        )
    if key == ("50", "3+"):
        t1 = pd.DataFrame({"text": ["Relative"], "x": [1.085]})
        t2 = pd.DataFrame({"text": ["E"], "x": [1.093]})
        t3 = pd.DataFrame({"text": ["C"], "x": [1.119]})
        layers.append(alt.Chart(t1).mark_text(font=SERIF, fontSize=16, align="right", baseline="alphabetic",
                                              color="black").encode(
            x=alt.X("x:Q", scale=xs, axis=None), y=alt.value(PANEL_H + 37), text="text:N"))
        layers.append(alt.Chart(t2).mark_text(font=SERIF, fontSize=16, fontStyle="italic", align="left",
                                              baseline="alphabetic", color="black").encode(
            x=alt.X("x:Q", scale=xs, axis=None), y=alt.value(PANEL_H + 37), text="text:N"))
        layers.append(alt.Chart(t3).mark_text(font=SERIF, fontSize=11, align="left",
                                              baseline="alphabetic", color="black").encode(
            x=alt.X("x:Q", scale=xs, axis=None), y=alt.value(PANEL_H + 40), text="text:N"))

    ch = alt.layer(*layers).resolve_axis(x="independent", y="independent")
    props = dict(width=PANEL_W[charge], height=PANEL_H)
    if ri == 0:
        props["title"] = alt.Title(charge, fontSize=14, font=SERIF if charge != "4+" else "Liberation Sans",
                                   fontWeight="normal", offset=2, anchor="middle", color="black")
    return ch.properties(**props)


panels = [panel(r, c) for r in ROWS for c in CHARGES]

chart = alt.concat(*panels, columns=3, spacing=0, bounds="flush", align="each",
                   padding={"left": 0, "top": 0, "right": 5, "bottom": 0}).configure_view(
    stroke=GRAY, strokeWidth=1).configure(background="white")

chart.save("out.html", embed_options={"renderer": "svg", "actions": False})
